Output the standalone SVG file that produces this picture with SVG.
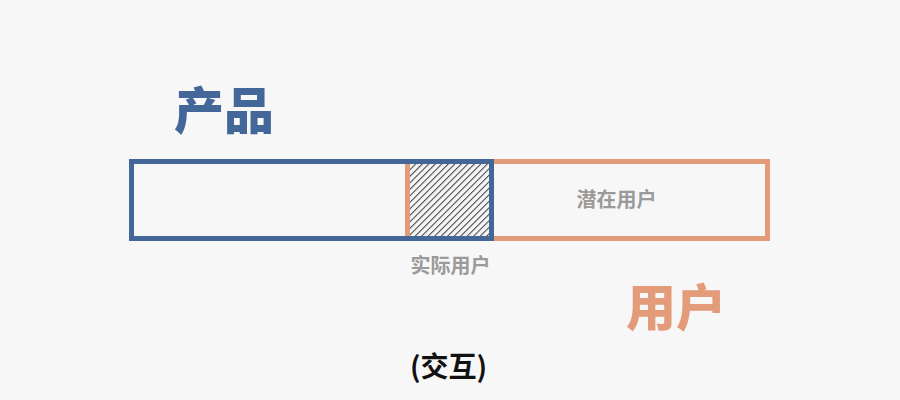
<svg xmlns="http://www.w3.org/2000/svg" width="900" height="400" viewBox="0 0 900 400">
<style>
.cjk{font-family:"Noto Sans CJK SC","Noto Sans",sans-serif;}
.big{font-size:50px;font-weight:900;}
.small{font-size:20px;font-weight:bold;fill:#9a9a9a;}
.blue{fill:none;stroke:#44679a;stroke-width:5;}
.orange{fill:none;stroke:#e39b7a;stroke-width:5;}
</style>
<defs>
<pattern id="hatch" patternUnits="userSpaceOnUse" width="4.6" height="4.6" patternTransform="rotate(45)">
<line x1="0.6" y1="0" x2="0.6" y2="4.6" stroke="#222" stroke-width="0.9"/>
</pattern>
</defs>
<rect width="900" height="400" fill="#f7f7f8"/>
<g id="potential-users">
<rect x="407.5" y="161.5" width="360" height="77" fill="#f8f8f8" class="orange"/>
<text x="616.5" y="207" text-anchor="middle" class="cjk small">潜在用户</text>
</g>
<g id="actual-users">
<rect x="410" y="164" width="79" height="72" fill="url(#hatch)"/>
<text x="450.5" y="273" text-anchor="middle" class="cjk small">实际用户</text>
</g>
<g id="product">
<rect x="131.5" y="161.5" width="360" height="77" class="blue"/>
<text x="224" y="129" text-anchor="middle" class="cjk big" fill="#44679a">产品</text>
</g>
<g id="users-label">
<text x="676" y="326" text-anchor="middle" class="cjk big" fill="#e39b7a">用户</text>
</g>
<g id="caption">
<text x="448.5" y="377" text-anchor="middle" class="cjk" font-size="28" font-weight="bold" fill="#111">(交互)</text>
</g>
<g id="connectors"/>
</svg>
